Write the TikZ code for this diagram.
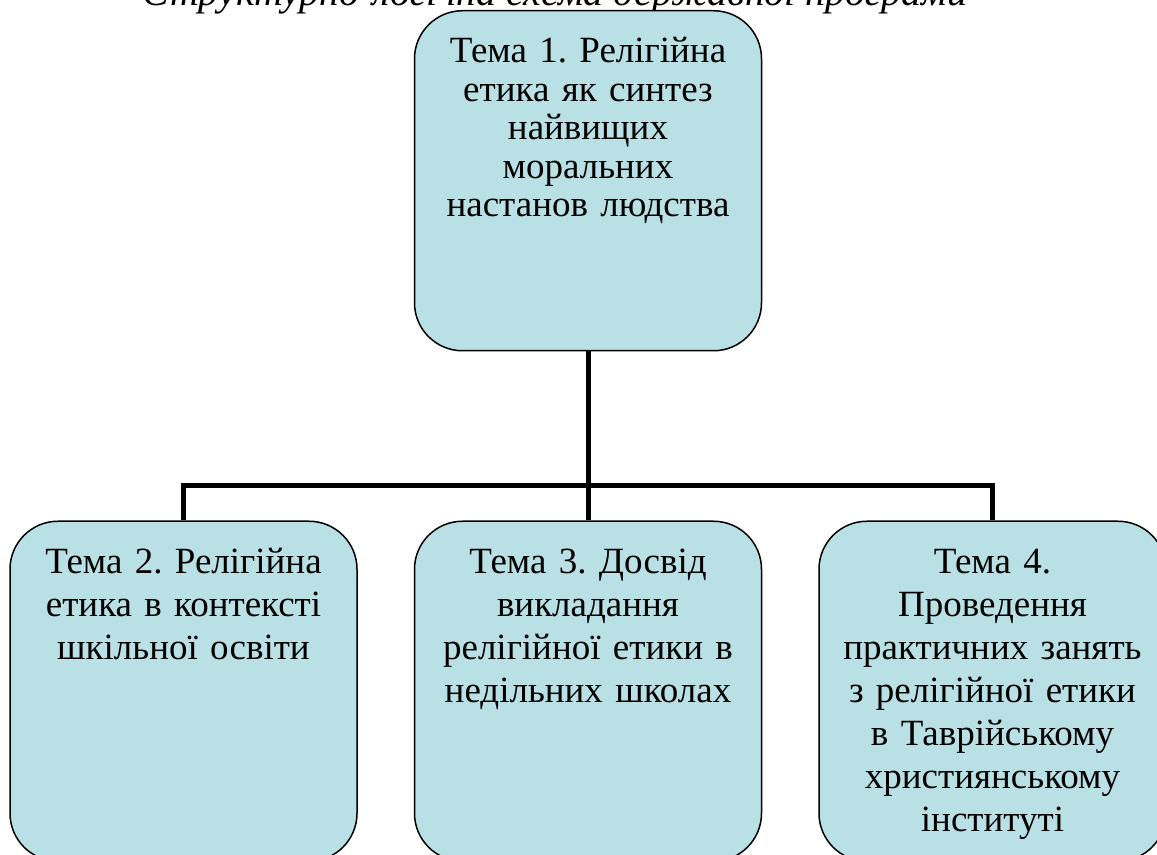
\documentclass[tikz,border=0pt]{standalone}
\usepackage{fontspec}
\setmainfont{Liberation Serif}
\usetikzlibrary{positioning}
\definecolor{boxfill}{HTML}{B9E0E4}
\frenchspacing

\begin{document}
\begin{tikzpicture}[
	x = 0.5pt, y = -0.5pt,
	tema/.style = {draw, line width=0.75pt, fill=boxfill, rounded corners=24pt, text width=164pt, align=center, inner xsep=4.75pt, inner ysep=0pt, text height=26pt, text depth=144pt, font=\fontsize{18.5pt}{19.25pt}\selectfont},
	lower/.style = {tema, font=\fontsize{18.5pt}{21.5pt}\selectfont},
	link/.style = {line width=2.5pt},
	node distance = 84.5pt and 28pt
]
\useasboundingbox (0, 0) rectangle (1157, 855);

\node[anchor=base, font=\fontsize{20pt}{24pt}\selectfont\itshape] (title) at (555, 6) {Структурно-логічна схема державної програми};

\node[tema, anchor=north] (t1) at (588, 10) {Тема 1. Релігійна\\ етика як синтез\\ найвищих\\ моральних\\ настанов людства};

\node[lower, below=of t1] (t3) {Тема 3. Досвід\\ викладання\\ релігійної етики в\\ недільних школах};
\node[lower, left=of t3] (t2) {Тема 2. Релігійна\\ етика в контексті\\ шкільної освіти};
\node[lower, right=of t3] (t4) {Тема 4.\\ Проведення\\ практичних занять\\ з релігійної етики\\ в Таврійському\\ християнському\\ інституті};

\coordinate[below=67pt of t1.south] (bus);
\draw[link] (t1.south) -- (t3.north);
\draw[link] (t2.north) -- (t2.north |- bus) -- (t4.north |- bus) -- (t4.north);

\end{tikzpicture}
\end{document}
